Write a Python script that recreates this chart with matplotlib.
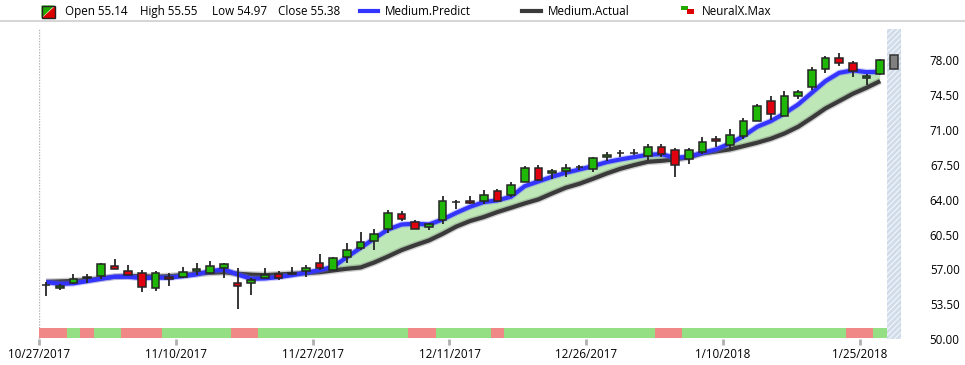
import matplotlib.pyplot as plt
import matplotlib.patches as mpatches
from matplotlib.lines import Line2D
import numpy as np

W, H = 965, 365

# OHLC per trading day (bar index 0 = 10/27/2017)
opens = [55.42, 55.14, 55.66, 56.13, 56.36, 57.37, 56.87, 56.67, 55.16, 56.27,
         56.27, 56.83, 56.67, 57.17, 55.66, 55.63, 56.13, 56.53, 56.58, 56.83,
         57.67, 56.97, 58.27, 59.14, 59.87, 61.08, 62.58, 61.78, 61.28, 61.98,
         63.73, 63.88, 63.88, 64.89, 64.45, 65.79, 67.19, 66.66, 66.86, 67.27,
         67.09, 68.29, 68.64, 68.64, 68.39, 69.30, 68.99, 68.09, 68.80, 70.10,
         69.50, 70.40, 71.90, 73.91, 72.40, 74.41, 75.31, 77.11, 78.22, 77.72,
         76.21, 76.61]
highs = [55.76, 55.55, 56.50, 56.53, 57.60, 58.00, 57.40, 56.90, 56.87, 56.63,
         57.20, 57.60, 57.80, 57.67, 57.10, 56.16, 57.17, 56.87, 57.27, 57.47,
         58.50, 58.27, 59.61, 60.71, 61.01, 62.98, 62.81, 61.98, 61.70, 64.32,
         63.92, 64.32, 64.92, 65.02, 65.72, 67.32, 67.42, 67.02, 67.52, 67.42,
         68.25, 68.73, 68.93, 69.10, 69.53, 69.53, 69.20, 69.13, 70.30, 70.40,
         71.03, 72.20, 73.61, 74.34, 74.84, 74.94, 77.25, 78.35, 78.72, 77.92,
         76.55, 78.12]
lows = [54.33, 54.97, 55.56, 55.66, 56.00, 57.00, 56.43, 54.76, 54.83, 55.36,
        56.10, 56.43, 56.53, 56.13, 53.06, 54.43, 56.10, 55.93, 56.43, 56.23,
        56.97, 56.93, 57.67, 58.94, 58.94, 60.64, 61.90, 61.05, 60.94, 61.54,
        63.01, 63.52, 63.55, 63.75, 64.25, 65.75, 65.85, 66.09, 66.26, 66.96,
        66.76, 67.86, 68.26, 68.43, 67.99, 68.29, 66.29, 67.59, 68.53, 69.30,
        69.03, 70.10, 71.85, 71.97, 72.35, 74.04, 74.94, 76.68, 77.38, 76.28,
        75.48, 76.51]
closes = [55.45, 55.38, 56.06, 56.20, 57.50, 57.07, 56.47, 55.26, 56.67, 56.06,
          56.77, 57.07, 57.37, 57.50, 55.36, 55.96, 56.46, 56.17, 56.62, 57.17,
          57.13, 58.17, 58.97, 59.77, 60.51, 62.68, 62.08, 61.08, 61.58, 63.88,
          63.78, 63.68, 64.49, 63.88, 65.49, 67.19, 65.95, 66.89, 67.19, 67.31,
          68.19, 68.49, 68.68, 68.68, 69.30, 68.59, 67.42, 68.99, 69.80, 69.86,
          70.50, 71.90, 73.41, 72.60, 74.41, 74.81, 77.01, 78.22, 77.72, 76.91,
          76.41, 78.02]
pending_open = 77.11
pending_close = 78.52

predict = [55.73, 55.56, 55.60, 55.83, 56.06, 56.27, 56.27, 56.13, 56.17, 56.17,
           56.33, 56.50, 56.83, 57.00, 56.50, 56.06, 56.10, 56.23, 56.43, 56.67,
           56.93, 57.27, 58.24, 59.17, 60.10, 61.01, 61.51, 61.58, 61.51, 62.01,
           62.68, 63.28, 63.75, 63.92, 64.29, 65.35, 65.82, 66.29, 66.69, 67.02,
           67.36, 67.76, 68.03, 68.26, 68.49, 68.56, 68.19, 68.29, 68.69, 69.03,
           69.63, 70.36, 71.30, 71.87, 72.64, 73.54, 74.71, 75.88, 76.71, 76.95,
           76.78, 76.81]
actual = [55.76, 55.80, 55.85, 55.93, 56.10, 56.27, 56.33, 56.33, 56.27, 56.33,
          56.43, 56.57, 56.67, 56.73, 56.57, 56.48, 56.43, 56.50, 56.57, 56.63,
          56.73, 56.90, 57.07, 57.20, 57.70, 58.30, 58.94, 59.44, 59.91, 60.57,
          61.30, 61.85, 62.25, 62.75, 63.18, 63.62, 64.02, 64.62, 65.19, 65.59,
          66.09, 66.62, 67.09, 67.46, 67.79, 67.89, 68.03, 68.25, 68.63, 68.83,
          69.03, 69.36, 69.70, 70.10, 70.63, 71.30, 72.20, 73.14, 73.87, 74.61,
          75.21, 75.88]

# NeuralX.Max signal strip: 1 = green, -1 = red
signal = ([-1, -1, 1, -1, 1, 1, -1, -1, -1] + [1] * 5 + [-1, -1] + [1] * 11
          + [-1, -1] + [1] * 4 + [-1] + [1] * 11 + [-1, -1] + [1] * 12
          + [-1, -1, 1])

tick_bars = [0, 10, 20, 30, 40, 50, 60]
tick_labels = ["10/27/2017", "11/10/2017", "11/27/2017", "12/11/2017",
               "12/26/2017", "1/10/2018", "1/25/2018"]
y_ticks = [50.0, 53.5, 57.0, 60.5, 64.0, 67.5, 71.0, 74.5, 78.0]

legend_ohlc = [55.14, 55.55, 54.97, 55.38]

GREEN = "#1fb806"
RED = "#e00010"
EDGE = "#262626"
BLUE = "#3434ff"
DARK = "#3a3a3a"
FILL = "#bde7b6"
SIG_GREEN = "#94df84"
SIG_RED = "#f08888"
FS = 8.4

plt.rcParams["font.family"] = ["Open Sans", "DejaVu Sans"]
plt.rcParams["hatch.linewidth"] = 0.8

fig = plt.figure(figsize=(W / 100, H / 100), dpi=100)
ax = fig.add_axes([39.3 / W, 1 - 339.3 / H, 861.4 / W, 310.3 / H])

n = len(closes)
x = np.arange(n)
o = np.array(opens)
c = np.array(closes)
p = np.array(predict)
a = np.array(actual)

# band between prediction and actual
ax.fill_between(x, p, a, where=p >= a, interpolate=True, color=FILL, lw=0, zorder=1)

# lines with a soft halo
ax.plot(x, a, color="#777777", lw=5.0, alpha=0.35, zorder=2, solid_capstyle="butt")
ax.plot(x, a, color=DARK, lw=3.0, zorder=2.1, solid_capstyle="butt")
ax.plot(x, p, color="#6a6aff", lw=4.6, alpha=0.35, zorder=2.2, solid_capstyle="butt")
ax.plot(x, p, color=BLUE, lw=3.0, zorder=2.3, solid_capstyle="butt")

# candles
ax.vlines(x, lows, highs, color=EDGE, lw=1.3, zorder=4)
body_col = [GREEN if cc >= oo else RED for oo, cc in zip(o, c)]
ax.bar(x, np.maximum(np.abs(c - o), 0.03), bottom=np.minimum(o, c), width=0.56,
       color=body_col, edgecolor=EDGE, lw=1.1, zorder=5)
ax.bar([n], [pending_close - pending_open], bottom=[pending_open], width=0.56,
       color="#808080", edgecolor="#333333", lw=1.1, zorder=5)

# pending (future) slot
ax.axvspan(n - 0.5, n + 0.5, facecolor="#d0dcea", edgecolor="#f4f7fb",
           hatch="//////", lw=0, zorder=0)
ax.axvline(n + 0.5, color="#a8a8a8", ls=(0, (1, 1)), lw=1, zorder=0.5)
ax.axvline(-0.5, color="#b4b4b4", ls=(0, (1, 1)), lw=1, zorder=0.5)

# signal strip along the bottom
sig_col = [SIG_GREEN if s > 0 else SIG_RED for s in signal]
ax.bar(x, 0.032, bottom=0.005, width=1.0, color=sig_col, lw=0,
       transform=ax.get_xaxis_transform(), zorder=3)

ax.set_xlim(-0.5, n + 0.5)
ax.set_ylim(50.0, 81.1)

for s in ax.spines.values():
    s.set_visible(False)

ax.set_xticks([b - 0.5 for b in tick_bars])
ax.set_xticklabels(tick_labels)
ax.tick_params(axis="x", length=4, width=2, color="#b0b0b0", pad=2, labelsize=FS)

ax.yaxis.tick_right()
ax.set_yticks(y_ticks)
ax.set_yticklabels([f"{v:.2f}" for v in y_ticks])
ax.tick_params(axis="y", length=0, pad=42.5, labelsize=FS)
for lbl in ax.get_yticklabels():
    lbl.set_horizontalalignment("right")


# legend row drawn in pixel coordinates
def px(xp, yp):
    return (xp / W, 1 - yp / H)


tf = fig.transFigure
fig.add_artist(Line2D([0, 1], [1 - 21 / H] * 2, transform=tf, color="#d6d6d6", lw=1.5))

fig.add_artist(mpatches.Polygon([px(41.5, 5.5), px(54.5, 5.5), px(41.5, 18)],
                                closed=True, transform=tf, color="#22aa00", lw=0))
fig.add_artist(mpatches.Polygon([px(54.5, 5.5), px(54.5, 18), px(41.5, 18)],
                                closed=True, transform=tf, color="#dd0000", lw=0))
fig.add_artist(mpatches.Polygon([px(41.5, 5.5), px(54.5, 5.5), px(54.5, 18), px(41.5, 18)],
                                closed=True, transform=tf, fill=False,
                                edgecolor="#222222", lw=1))

ty = px(0, 11.5)[1]
items = [("Open", legend_ohlc[0], 64.8), ("High", legend_ohlc[1], 140.3),
         ("Low", legend_ohlc[2], 211.7), ("Close", legend_ohlc[3], 278)]
for name, val, xp in items:
    fig.text(xp / W, ty, f"{name} {val:.2f}", fontsize=FS, va="center", ha="left")

fig.add_artist(Line2D([px(359.7, 0)[0], px(377.6, 0)[0]], [1 - 11 / H] * 2,
                      transform=tf, color=BLUE, lw=3))
fig.text(385 / W, ty, "Medium.Predict", fontsize=FS, va="center", ha="left")

fig.add_artist(Line2D([px(521.7, 0)[0], px(540.7, 0)[0]], [1 - 11 / H] * 2,
                      transform=tf, color=DARK, lw=3))
fig.text(548.3 / W, ty, "Medium.Actual", fontsize=FS, va="center", ha="left")

fig.add_artist(mpatches.Rectangle(px(681, 9.5), 6.5 / W, 3.8 / H, transform=tf,
                                  color="#22aa00", lw=0))
fig.add_artist(mpatches.Rectangle(px(687.3, 13.5), 6.7 / W, 4.2 / H, transform=tf,
                                  color="#dd0000", lw=0))
fig.text(701.7 / W, ty, "NeuralX.Max", fontsize=FS, va="center", ha="left")

fig.savefig("out.png", dpi=100)
